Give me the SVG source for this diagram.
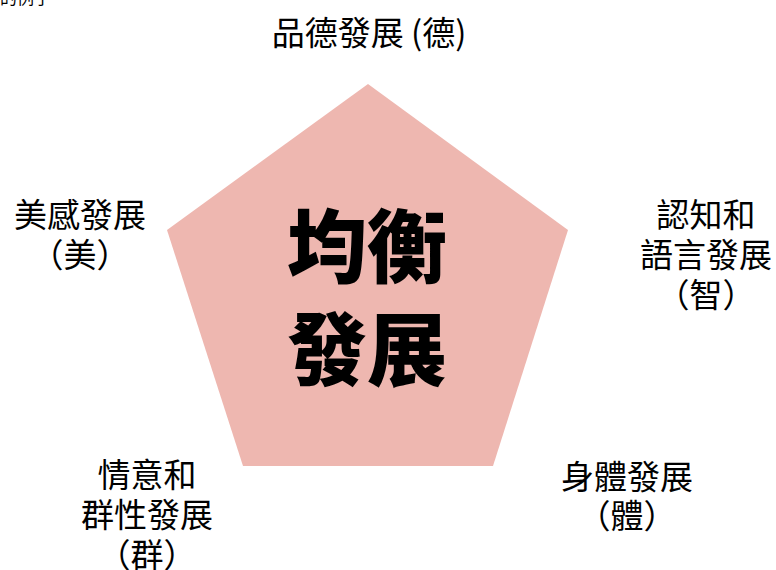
<svg xmlns="http://www.w3.org/2000/svg" width="776" height="570" viewBox="0 0 776 570">
<style>
.lbl{font-family:"Noto Sans CJK TC","Noto Sans CJK SC",sans-serif;font-size:33px;fill:#000;text-anchor:middle}
.ctr{font-family:"Noto Sans CJK TC","Noto Sans CJK SC",sans-serif;font-size:80px;font-weight:900;fill:#000;text-anchor:middle}
</style>
<rect width="776" height="570" fill="#fff"/>
<text x="0" y="4" style="font-family:'Noto Sans CJK TC',sans-serif;font-size:17px">的例子</text>
<g id="center">
<polygon points="368,84 568,230 493,466 243,466 167,230" fill="#EEB7B0"/>
<text class="ctr" x="367" y="276">均衡</text>
<text class="ctr" x="367" y="379">發展</text>
</g>
<g id="moral"><text class="lbl" x="369" y="45">品德發展 (德)</text></g>
<g id="cognitive"><text class="lbl" x="706" y="227">認知和</text><text class="lbl" x="706" y="267">語言發展</text><text class="lbl" x="706" y="307">（智）</text></g>
<g id="physical"><text class="lbl" x="627" y="489">身體發展</text><text class="lbl" x="627" y="528">（體）</text></g>
<g id="social"><text class="lbl" x="147" y="487">情意和</text><text class="lbl" x="147" y="527">群性發展</text><text class="lbl" x="147" y="567">（群）</text></g>
<g id="aesthetic"><text class="lbl" x="80" y="227">美感發展</text><text class="lbl" x="80" y="267">（美）</text></g>
<g id="connectors"></g>
</svg>
